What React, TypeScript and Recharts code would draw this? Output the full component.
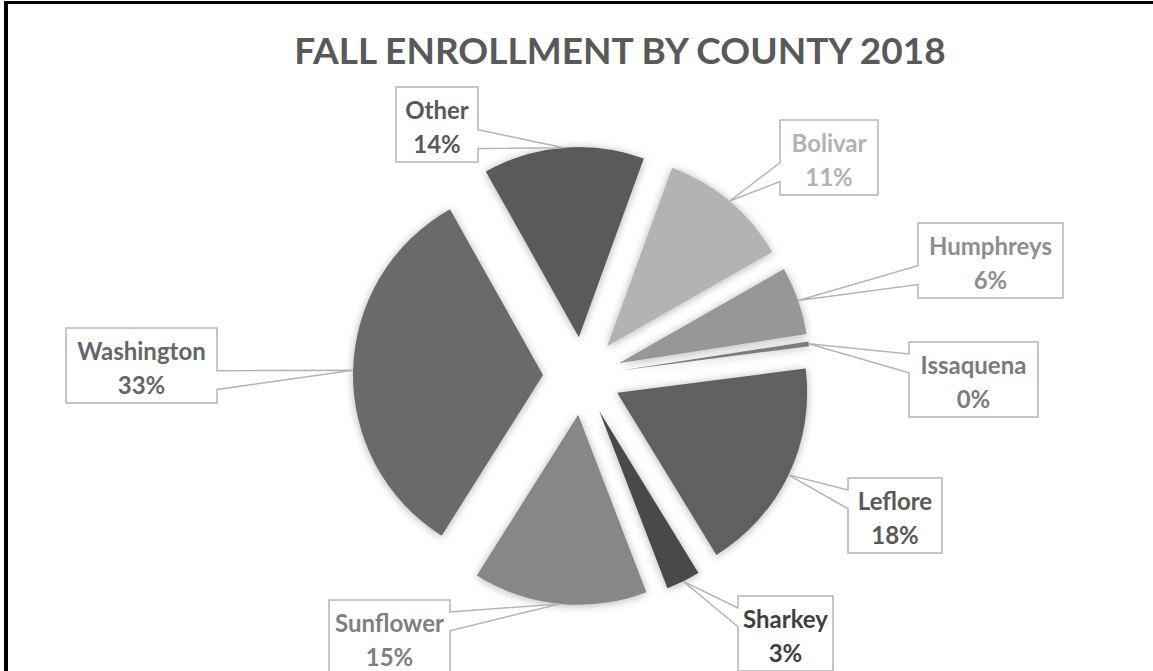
import React from 'react';
import { PieChart, Pie, Cell } from 'recharts';

const counties = ['Bolivar', 'Humphreys', 'Issaquena', 'Leflore', 'Sharkey', 'Sunflower', 'Washington', 'Other'];
const shares = [11.2, 5.8, 0.4, 18.3, 2.9, 14.8, 32.9, 13.7];
const chartTitle = 'FALL ENROLLMENT BY COUNTY 2018';

const sliceColors = ['#b3b3b3', '#979797', '#7c7c7c', '#606060', '#4a4a4a', '#878787', '#6b6b6b', '#5a5a5a'];
const labelColors = ['#b2b2b2', '#8e8e8e', '#7b7b7b', '#595959', '#404040', '#7f7f7f', '#666666', '#595959'];

const labelBoxes: Record<string, { left: number; top: number; width: number }> = {
  Bolivar: { left: 780, top: 120, width: 98 },
  Humphreys: { left: 918, top: 223, width: 145 },
  Issaquena: { left: 909, top: 342, width: 129 },
  Leflore: { left: 848, top: 478, width: 94 },
  Sharkey: { left: 738, top: 596, width: 95 },
  Sunflower: { left: 329, top: 600, width: 121 },
  Washington: { left: 66, top: 328, width: 151 },
  Other: { left: 396, top: 87, width: 82 },
};

const W = 1153;
const H = 671;
const CENTER_X = 582;
const CENTER_Y = 376;
const RADIUS = 190;
const EXPLODE = 39;
const START_ANGLE = 70;
const BOX_H = 75;
const FONT = 'Lato, "Open Sans", sans-serif';

const data = counties.map((name, i) => ({ name, value: shares[i] }));
const total = shares.reduce((a, b) => a + b, 0);
const offsets = (() => {
  let acc = 0;
  return shares.map((v) => {
    const mid = START_ANGLE - (360 * (acc + v / 2)) / total;
    acc += v;
    const r = (mid * Math.PI) / 180;
    return { dx: EXPLODE * Math.cos(r), dy: -EXPLODE * Math.sin(r) };
  });
})();

function makeLabel(own: number) {
  return (p: any) => {
    if (p.index !== own) return <g key={`none-${own}-${p.index}`} />;
    const RAD = Math.PI / 180;
    const tx = p.cx + p.outerRadius * Math.cos(-p.midAngle * RAD);
    const ty = p.cy + p.outerRadius * Math.sin(-p.midAngle * RAD);
    const name = counties[own];
    const b = labelBoxes[name];
    const L = b.left;
    const T = b.top;
    const Rr = b.left + b.width;
    const B = b.top + BOX_H;
    const upper = ty < T + BOX_H / 2;
    const b1 = T + BOX_H * (upper ? 0.16 : 0.57);
    const b2 = T + BOX_H * (upper ? 0.41 : 0.82);
    let d = `M${L},${T} H${Rr}`;
    if (tx > Rr) d += ` V${b1} L${tx},${ty} L${Rr},${b2}`;
    d += ` V${B} H${L}`;
    if (tx < L) d += ` V${b2} L${tx},${ty} L${L},${b1}`;
    d += ' Z';
    const xc = L + b.width / 2;
    return (
      <g key={`lbl-${own}`}>
        <path d={d} fill="#ffffff" stroke="#b4b4b4" strokeWidth={1.5} />
        <text x={xc} y={T + BOX_H * 0.3} textAnchor="middle" dominantBaseline="central" fontFamily={FONT} fontWeight={700} fontSize={24} fill={labelColors[own]}>
          {name}
        </text>
        <text x={xc} y={T + BOX_H * 0.75} textAnchor="middle" dominantBaseline="central" fontFamily={FONT} fontWeight={700} fontSize={24} fill={labelColors[own]}>
          {`${Math.round(p.percent * 100)}%`}
        </text>
      </g>
    );
  };
}

export default function App() {
  return (
    <div style={{ position: 'fixed', left: 0, top: 0, width: W, height: H, background: '#ffffff', overflow: 'hidden' }}>
      <svg width={0} height={0} style={{ position: 'absolute' }}>
        <defs>
          <filter id="sliceShadow" x="-20%" y="-20%" width="140%" height="140%">
            <feDropShadow dx={0} dy={1} stdDeviation={4} floodColor="#000000" floodOpacity={0.3} />
          </filter>
        </defs>
      </svg>
      <PieChart width={W} height={H} margin={{ top: 0, right: 0, bottom: 0, left: 0 }}>
        {counties.map((c, i) => (
          <Pie
            key={c}
            data={data}
            dataKey="value"
            nameKey="name"
            cx={CENTER_X + offsets[i].dx}
            cy={CENTER_Y + offsets[i].dy}
            innerRadius={0}
            outerRadius={RADIUS}
            startAngle={START_ANGLE}
            endAngle={START_ANGLE - 360}
            stroke="none"
            isAnimationActive={false}
            label={makeLabel(i)}
            labelLine={false}
          >
            {data.map((_, j) => (
              <Cell
                key={`cell-${i}-${j}`}
                fill={j === i ? sliceColors[i] : 'none'}
                stroke="none"
                style={j === i ? { filter: 'url(#sliceShadow)' } : undefined}
              />
            ))}
          </Pie>
        ))}
      </PieChart>
      <svg width={W} height={H} style={{ position: 'absolute', left: 0, top: 0, pointerEvents: 'none' }}>
        <text x={620} y={64} textAnchor="middle" fontFamily={FONT} fontWeight={700} fontSize={37} fill="#595959">
          {chartTitle}
        </text>
        <rect x={4} y={1} width={W - 4} height={3} fill="#000000" />
        <rect x={4} y={1} width={4} height={H - 1} fill="#000000" />
      </svg>
    </div>
  );
}
